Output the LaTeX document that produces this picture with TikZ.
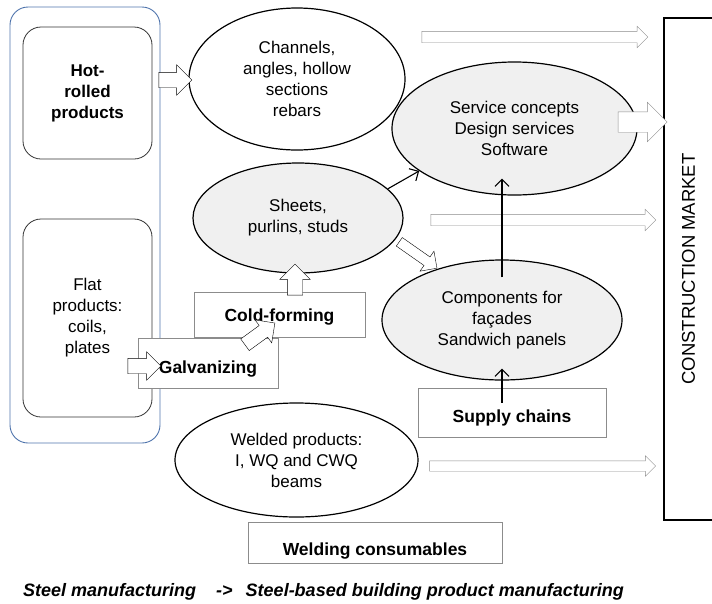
\documentclass[tikz,border=0pt]{standalone}
\usepackage{fontspec}
\setmainfont{Liberation Sans}
\usetikzlibrary{shapes, shapes.geometric, shapes.arrows, arrows.meta, positioning}

\definecolor{frameblue}{HTML}{4F74AC}
\definecolor{ovalgray}{HTML}{F0F0F0}
\definecolor{edgegray}{HTML}{8C8C8C}

\begin{document}
\begin{tikzpicture}[
  x=1pt, y=-1pt,
  every node/.style={font=\fontsize{17}{21}\selectfont, align=center},
  prod/.style={draw=black!80, line width=0.8pt, rounded corners=18pt, inner sep=0pt},
  oval/.style={ellipse, draw, fill=white, line width=1.2pt, inner sep=0pt},
  shade/.style={oval, fill=ovalgray},
  task/.style={draw=edgegray, line width=0.8pt, fill=white, inner sep=0pt, text depth=0pt,
    font=\fontsize{17.5}{21}\selectfont\bfseries},
  fat/.style n args={3}{single arrow, draw, fill=white, inner xsep=0pt,
    inner ysep=#2, single arrow head indent=0pt, minimum height=#1,
    single arrow head extend=#3},
  thin/.style={-{Straight Barb[length=7pt,width=14pt]}, line width=1.1pt}
]
  \useasboundingbox (0,0) rectangle (712,603);

  % steel manufacturing
  \node[draw=frameblue, line width=0.9pt, rounded corners=18pt, minimum width=150, minimum height=436] (steel) at (85,225) {};
  \node[prod, minimum width=129, minimum height=132, font=\fontsize{17}{21}\selectfont\bfseries] (hot) at (87.5,93) {Hot-\\rolled\\products};
  \node[prod, minimum width=129, minimum height=198] (flat) at (87.5,318) {Flat\\products:\\coils,\\plates};

  % products
  \node[oval, minimum width=216, minimum height=142] (channels) at (297,79) {Channels,\\angles, hollow\\sections\\rebars};
  \node[shade, minimum width=210, minimum height=110] (sheets) at (298,218) {Sheets,\\purlins, studs};
  \node[shade, minimum width=245, minimum height=133] (service) at (514.5,128.5) {Service concepts\\Design services\\Software};
  \node[shade, minimum width=240, minimum height=120] (components) at (502,320) {Components for\\façades\\Sandwich panels};
  \node[oval, minimum width=243, minimum height=114] (welded) at (296.5,460) {Welded products:\\I, WQ and CWQ\\beams};

  % processes
  \node[task, minimum width=171, minimum height=45, text height=14pt] (cold) at (279.5,314.5) {Cold-forming};
  \node[task, minimum width=140, minimum height=50, text height=20pt] (galv) at (208,363) {Galvanizing};
  \node[task, minimum width=188, minimum height=49, text height=20pt] (supply) at (512,412.5) {Supply chains};
  \node[task, minimum width=254, minimum height=41, text height=26pt] (welding) at (375,542.5) {Welding consumables};

  \node[draw, line width=1.1pt, rotate=90, minimum width=502, minimum height=49,
    font=\fontsize{18.5}{22}\selectfont] (market) at (688.5,269) {CONSTRUCTION MARKET};

  % block arrows
  \node[fat={33}{7.5}{7.5}] (arHot) at (171.5,80) {};
  \node[fat={33}{7.5}{6.5}] (arFlat) at (140.5,366) {};
  \node[fat={37}{7}{7}, rotate=36] (arGalv) at (257,336) {};
  \node[fat={31}{7.5}{7.5}, rotate=90] (arCold) at (295,283.5) {};
  \node[fat={46}{5}{7}, rotate=-35] (arSheet) at (416,253.5) {};
  \node[fat={226}{5.5}{5}, draw=edgegray] (arTop) at (532,37) {};
  \node[fat={49}{10}{9.5}, draw=edgegray] (arServ) at (637.5,122) {};
  \node[fat={225}{5.5}{5}, draw=edgegray] (arMid) at (540.5,220) {};
  \node[fat={226}{5}{5}, draw=edgegray] (arLow) at (540,466) {};

  % thin arrows
  \draw[thin] (sheets.18) -- (service.204);
  \draw[thin, shorten <=-18pt, shorten >=-17pt] (components.north) -- (components.north |- service.south);
  \draw[thin, shorten <=-15pt, shorten >=-12pt] (components.south |- supply.north) -- (components.south);

  \node[anchor=west, inner sep=0pt, font=\fontsize{18}{22}\selectfont\bfseries\itshape] (caption) at (23,592)
    {Steel manufacturing\hspace{20pt}->\hspace{13pt}Steel-based building product manufacturing};
\end{tikzpicture}
\end{document}
